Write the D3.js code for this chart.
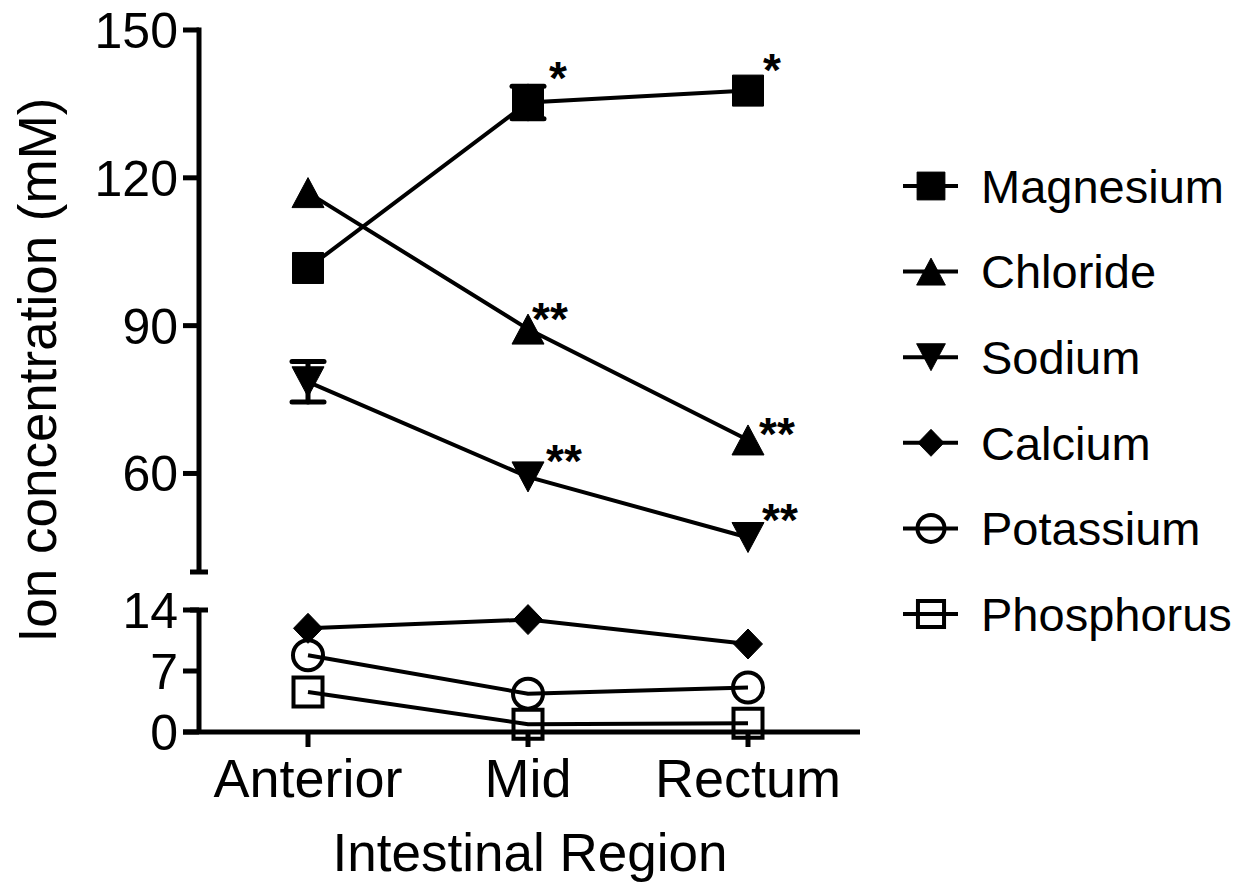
<!DOCTYPE html>
<html><head><meta charset="utf-8">
<script src="https://cdn.jsdelivr.net/npm/d3@7"></script>
<style>html,body{margin:0;padding:0;background:#fff;}svg{display:block;}text{font-family:"Liberation Sans",Arial,Helvetica,sans-serif;fill:#000;}</style>
</head><body>
<svg id="chart" width="1253" height="887"></svg>
<script>
// ---- data ----
const categories = ["Anterior", "Mid", "Rectum"];
const seriesNames = ["Magnesium", "Chloride", "Sodium", "Calcium", "Potassium", "Phosphorus"];
const magnesium = [101.7, 135.3, 137.7];
const chloride = [117.0, 89.3, 66.8];
const sodium = [78.6, 59.3, 47.0];
const calcium = [11.9, 12.9, 10.1];
const potassium = [8.8, 4.4, 5.1];
const phosphorus = [4.6, 0.9, 1.0];
const magnesiumErr = [0, 3.3, 0];
const sodiumErr = [4.1, 0, 0];
const upperTicks = [60, 90, 120, 150];
const lowerTicks = [0, 7, 14];
const upperDomain = [40, 150];
const lowerDomain = [0, 14];
const annotations = [
  {series: "Magnesium", cat: "Mid", text: "*"},
  {series: "Magnesium", cat: "Rectum", text: "*"},
  {series: "Chloride", cat: "Mid", text: "**"},
  {series: "Chloride", cat: "Rectum", text: "**"},
  {series: "Sodium", cat: "Mid", text: "**"},
  {series: "Sodium", cat: "Rectum", text: "**"}
];
const xTitle = "Intestinal Region";
const yTitle = "Ion concentration (mM)";

// ---- layout ----
const annOffsets = [[21, -8], [15, -5], [4, 6], [11, 10], [18, 0], [14, -2]];
const svg = d3.select("#chart");
const axisX = 199;
const x = d3.scalePoint().domain(categories).range([308, 748]);
const yU = d3.scaleLinear().domain(upperDomain).range([572, 30]);
const yL = d3.scaleLinear().domain(lowerDomain).range([732, 610]);

const series = [
  {name: "Magnesium", values: magnesium, err: magnesiumErr, y: yU, shape: "square", fill: true},
  {name: "Chloride", values: chloride, err: null, y: yU, shape: "triUp", fill: true},
  {name: "Sodium", values: sodium, err: sodiumErr, y: yU, shape: "triDown", fill: true},
  {name: "Calcium", values: calcium, err: null, y: yL, shape: "diamond", fill: true},
  {name: "Potassium", values: potassium, err: null, y: yL, shape: "circle", fill: false},
  {name: "Phosphorus", values: phosphorus, err: null, y: yL, shape: "square", fill: false}
];

function shapePath(shape, s) {
  const p = d3.path();
  if (shape === "square") {
    const h = s.fill ? 15.5 : 14.5;
    p.rect(-h, -h, 2 * h, 2 * h);
  } else if (shape === "triUp") {
    p.moveTo(0, -15); p.lineTo(16, 15); p.lineTo(-16, 15); p.closePath();
  } else if (shape === "triDown") {
    p.moveTo(-16, -15); p.lineTo(16, -15); p.lineTo(0, 15); p.closePath();
  } else if (shape === "diamond") {
    p.moveTo(0, -15); p.lineTo(14.5, 0); p.lineTo(0, 15); p.lineTo(-14.5, 0); p.closePath();
  } else if (shape === "circle") {
    p.arc(0, 0, 15, 0, 2 * Math.PI);
  }
  return p.toString();
}

function drawMarker(g, s, cx, cy, scale) {
  g.append("path")
    .attr("d", shapePath(s.shape, s))
    .attr("transform", `translate(${cx},${cy}) scale(${scale})`)
    .attr("fill", s.fill ? "#000" : "none")
    .attr("stroke", "#000")
    .attr("stroke-width", s.fill ? 1 : 4 / scale);
}

// axes
const ax = svg.append("g").attr("stroke", "#000").attr("stroke-width", 5).attr("fill", "none");
ax.append("line").attr("x1", axisX).attr("x2", axisX).attr("y1", yU(upperDomain[1]) - 2.5).attr("y2", yU(upperDomain[0]));
ax.append("line").attr("x1", axisX).attr("x2", axisX).attr("y1", yL(lowerDomain[1])).attr("y2", yL(0));
ax.append("line").attr("x1", 183).attr("x2", 860).attr("y1", yL(0)).attr("y2", yL(0));
// break caps
ax.append("line").attr("x1", 190).attr("x2", 208).attr("y1", yU(upperDomain[0])).attr("y2", yU(upperDomain[0]));
ax.append("line").attr("x1", 190).attr("x2", 208).attr("y1", yL(lowerDomain[1])).attr("y2", yL(lowerDomain[1]));
// y ticks
upperTicks.forEach(t => ax.append("line").attr("x1", 183).attr("x2", axisX).attr("y1", yU(t)).attr("y2", yU(t)));
lowerTicks.forEach(t => ax.append("line").attr("x1", 183).attr("x2", axisX).attr("y1", yL(t)).attr("y2", yL(t)));
// x ticks
categories.forEach(c => ax.append("line").attr("x1", x(c)).attr("x2", x(c)).attr("y1", yL(0)).attr("y2", yL(0) + 15));

const tickFs = 50;
upperTicks.forEach(t => svg.append("text").attr("x", 178).attr("y", yU(t) + tickFs * 0.358)
  .attr("text-anchor", "end").attr("font-size", tickFs).text(t));
lowerTicks.forEach(t => svg.append("text").attr("x", 178).attr("y", yL(t) + tickFs * 0.358)
  .attr("text-anchor", "end").attr("font-size", tickFs).text(t));
categories.forEach(c => svg.append("text").attr("x", x(c)).attr("y", 797)
  .attr("text-anchor", "middle").attr("font-size", 54).text(c));
svg.append("text").attr("x", 530).attr("y", 871).attr("text-anchor", "middle").attr("font-size", 53).text(xTitle);
svg.append("text").attr("transform", "translate(56,370) rotate(-90)").attr("text-anchor", "middle")
  .attr("font-size", 53).text(yTitle);

// series
series.forEach(s => {
  const g = svg.append("g");
  const line = d3.line().x((d, i) => x(categories[i])).y(d => s.y(d));
  g.append("path").attr("d", line(s.values)).attr("fill", "none").attr("stroke", "#000").attr("stroke-width", 4);
  if (s.err) {
    s.values.forEach((v, i) => {
      const e = s.err[i];
      if (!e) return;
      const cx = x(categories[i]);
      const eg = g.append("g").attr("stroke", "#000").attr("stroke-width", 5).attr("stroke-linecap", "round");
      eg.append("line").attr("x1", cx).attr("x2", cx).attr("y1", s.y(v - e)).attr("y2", s.y(v + e));
      eg.append("line").attr("x1", cx - 16).attr("x2", cx + 16).attr("y1", s.y(v - e)).attr("y2", s.y(v - e));
      eg.append("line").attr("x1", cx - 16).attr("x2", cx + 16).attr("y1", s.y(v + e)).attr("y2", s.y(v + e));
    });
  }
  s.values.forEach((v, i) => drawMarker(g, s, x(categories[i]), s.y(v), 1));
});

// annotations
annotations.forEach((a, k) => {
  const s = series.find(d => d.name === a.series);
  const i = categories.indexOf(a.cat);
  svg.append("text").attr("x", x(a.cat) + annOffsets[k][0]).attr("y", s.y(s.values[i]) + annOffsets[k][1])
    .attr("font-size", 46).attr("font-weight", "bold").text(a.text);
});

// legend
const legY0 = 186, legStep = 85.6;
seriesNames.forEach((n, k) => {
  const s = series.find(d => d.name === n);
  const cy = legY0 + k * legStep;
  const g = svg.append("g");
  g.append("line").attr("x1", 903).attr("x2", 958).attr("y1", cy).attr("y2", cy).attr("stroke", "#000").attr("stroke-width", 4);
  drawMarker(g, s, 931, cy, 0.9);
  svg.append("text").attr("x", 981).attr("y", cy + 47 * 0.358).attr("font-size", 47).text(n);
});
</script>
</body></html>
